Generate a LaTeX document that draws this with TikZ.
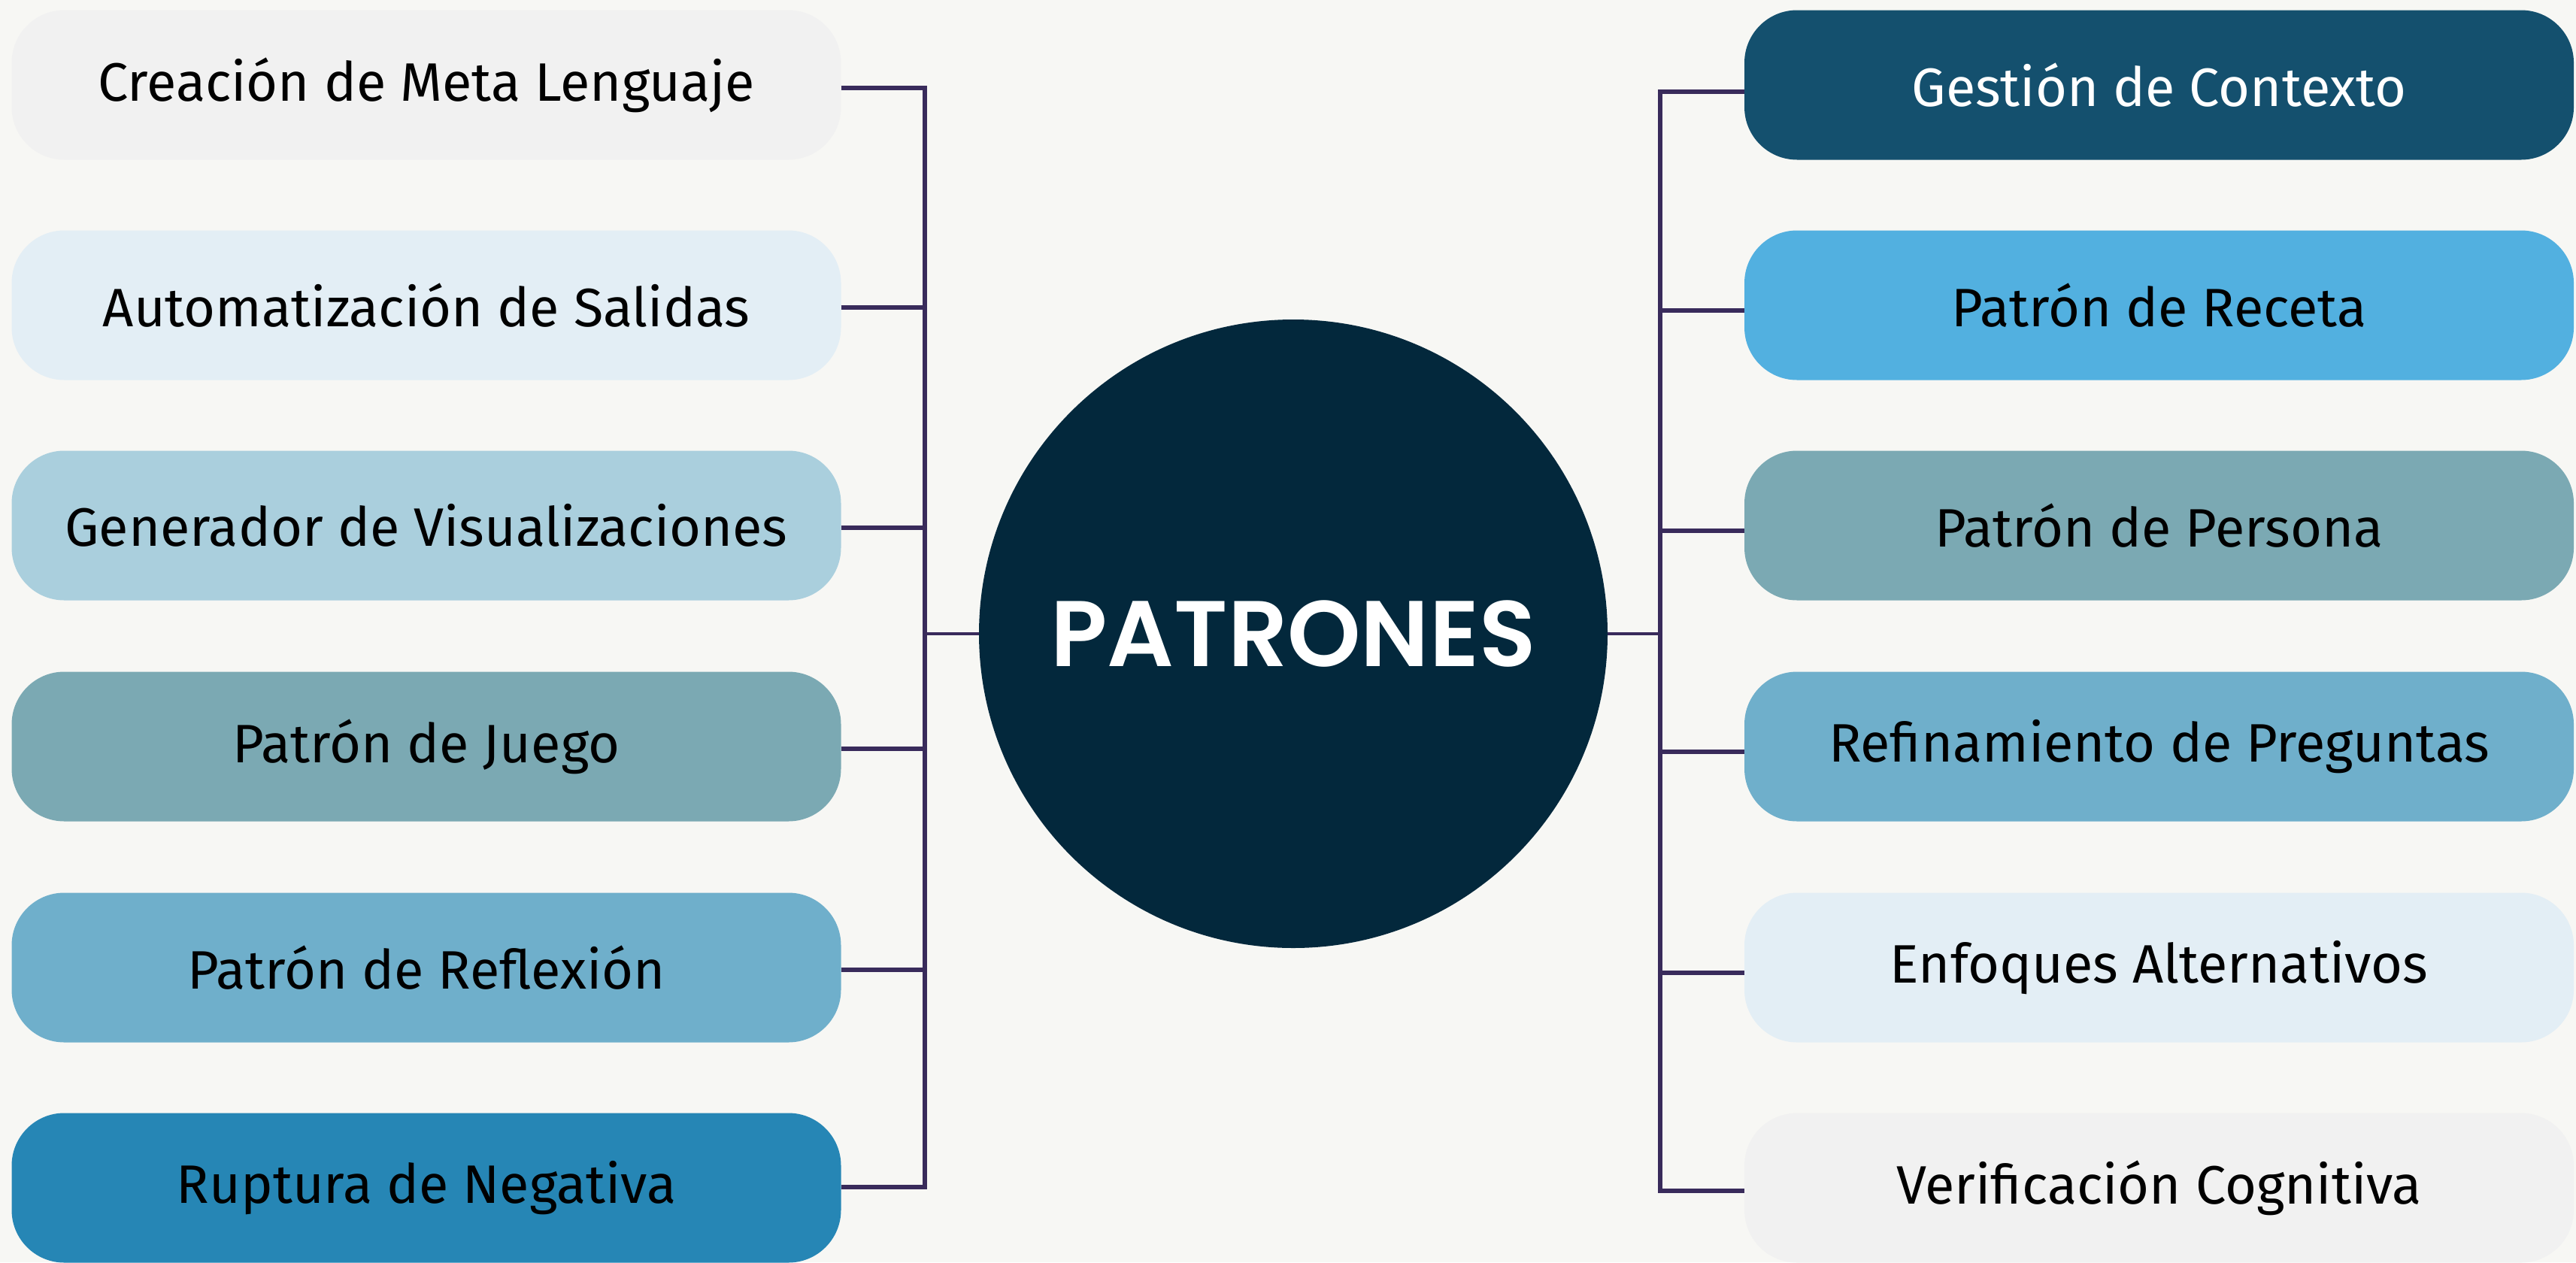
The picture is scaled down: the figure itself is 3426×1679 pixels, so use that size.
\documentclass[tikz,border=0pt]{standalone}
\usepackage{fontspec}
\setmainfont{Fira Sans}
\newfontfamily\titlefont{Poppins SemiBold}
\definecolor{bgc}{HTML}{F7F7F4}
\definecolor{linec}{HTML}{392B5B}
\definecolor{circc}{HTML}{03283C}
\definecolor{cA}{HTML}{F1F1F1}
\definecolor{cB}{HTML}{E3EEF5}
\definecolor{cC}{HTML}{AACFDD}
\definecolor{cD}{HTML}{7BA9B3}
\definecolor{cE}{HTML}{6FAFCB}
\definecolor{cF}{HTML}{2686B5}
\definecolor{cG}{HTML}{14506E}
\definecolor{cH}{HTML}{52B0E0}
\begin{document}
\begin{tikzpicture}[x=1pt,y=-1pt,
  pbox/.style={rectangle, rounded corners=70pt, minimum width=1103pt, minimum height=199pt, inner sep=0pt, text=black, font=\fontsize{72}{84}\selectfont},
  conn/.style={draw=linec, line width=6pt},
  cstub/.style={draw=linec, line width=4.5pt}]
\fill[bgc] (0,0) rectangle (3426,1679);
\useasboundingbox (0,0) rectangle (3426,1679);

\node[circle, fill=circc, minimum size=836pt, inner sep=0pt, text=white, font=\titlefont\fontsize{124}{150}\selectfont] (C) at (1720,843) {PATRONES};

\node[pbox, fill=cA] (L1) at (567,113) {Creación de Meta Lenguaje};
\node[pbox, fill=cB] (L2) at (567,406) {Automatización de Salidas};
\node[pbox, fill=cC] (L3) at (567,699) {Generador de Visualizaciones};
\node[pbox, fill=cD] (L4) at (567,993) {Patrón de Juego};
\node[pbox, fill=cE] (L5) at (567,1287) {Patrón de Reflexión};
\node[pbox, fill=cF] (L6) at (567,1580) {Ruptura de Negativa};

\node[pbox, fill=cG, text=white] (R1) at (2871.5,113) {Gestión de Contexto};
\node[pbox, fill=cH] (R2) at (2871.5,406) {Patrón de Receta};
\node[pbox, fill=cD] (R3) at (2871.5,699) {Patrón de Persona};
\node[pbox, fill=cE] (R4) at (2871.5,993) {Refinamiento de Preguntas};
\node[pbox, fill=cB] (R5) at (2871.5,1287) {Enfoques Alternativos};
\node[pbox, fill=cA] (R6) at (2871.5,1580) {Verificación Cognitiva};

\coordinate (lt) at (1230,0);
\coordinate (rt) at (2208,0);

\draw[conn] ([yshift=-4pt]L1.east) -- ([yshift=-4pt]L1.east -| lt) -- ([yshift=1pt]L6.east -| lt) -- ([yshift=1pt]L6.east);
\foreach \n in {L2,L3,L4,L5} \draw[conn] ([yshift=-3pt]\n.east) -- ([yshift=-3pt]\n.east -| lt);
\draw[cstub] (C.west) -- (C.west -| lt);

\draw[conn] ([yshift=-9pt]R1.west) -- ([yshift=-9pt]R1.west -| rt) -- ([yshift=-4pt]R6.west -| rt) -- ([yshift=-4pt]R6.west);
\foreach \n in {R2,R3,R4,R5} \draw[conn] ([yshift=-7pt]\n.west) -- ([yshift=-7pt]\n.west -| rt);
\draw[cstub] (C.east) -- (C.east -| rt);
\end{tikzpicture}
\end{document}
